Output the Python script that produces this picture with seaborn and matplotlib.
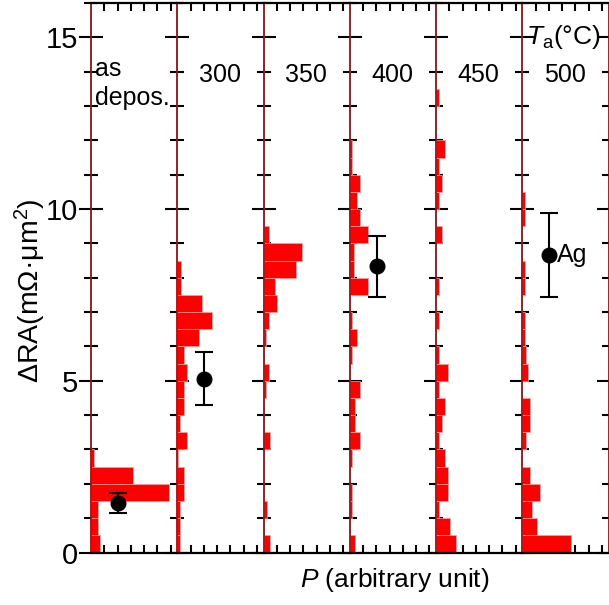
import numpy as np
import pandas as pd
import matplotlib
matplotlib.use("Agg")
import matplotlib.pyplot as plt
import seaborn as sns

# Panel labels: annealing temperature Ta (°C)
temperatures = ["as\ndepos.", "300", "350", "400", "450", "500"]

# ΔRA histogram bins (mΩ·μm²), 0.5 wide, starting at 0
bin_width = 0.5
bin_range = (0.0, 16.0)

# Probability P per bin (arbitrary unit), listed from the 0–0.5 bin upward
p_asdep = [0.70, 0.50, 0.50, 5.85, 3.15, 0.20]
p_300 = [0.23, 0.23, 0.23, 0.53, 0.53, 0.08, 0.71, 0.23, 0.53, 0.53,
         0.75, 0.50, 1.65, 2.59, 1.88, 0.26, 0.26]
p_350 = [0.47, 0.00, 0.23, 0.00, 0.00, 0.00, 0.47, 0.00, 0.00, 0.20,
         0.45, 0.00, 0.20, 0.45, 1.03, 0.85, 2.48, 2.91, 0.45]
p_400 = [0.43, 0.00, 0.17, 0.17, 0.00, 0.17, 0.80, 0.38, 0.38, 0.80,
         0.00, 0.17, 0.55, 0.17, 0.00, 1.35, 0.34, 0.35, 1.35, 0.75,
         0.55, 0.75, 0.17, 0.17]
p_450 = [1.50, 1.08, 0.25, 0.90, 0.90, 0.70, 0.25, 0.45, 0.70, 0.25,
         0.88, 0.25, 0.00, 0.25, 0.00, 0.25, 0.00, 0.00, 0.45, 0.00,
         0.25, 0.45, 0.25, 0.70, 0.00, 0.00, 0.25]
p_500 = [3.70, 1.13, 0.75, 1.30, 0.55, 0.00, 0.25, 0.55, 0.55, 0.00,
         0.40, 0.25, 0.20, 0.20, 0.00, 0.20, 0.20, 0.00, 0.00, 0.20, 0.20]
distributions = [p_asdep, p_300, p_350, p_400, p_450, p_500]

# Mean ΔRA with its spread, for the panels that carry a marker
mean_panels = [0, 1, 3, 5]
mean_values = [1.45, 5.06, 8.33, 8.66]
mean_errors = [0.29, 0.77, 0.89, 1.23]

sns.set_theme(style="ticks")
plt.rcParams["font.family"] = ["Liberation Sans", "DejaVu Sans"]
plt.rcParams["mathtext.fontset"] = "custom"
plt.rcParams["mathtext.rm"] = "Liberation Sans"
plt.rcParams["mathtext.it"] = "Liberation Sans:italic"
for key in ("text.color", "axes.labelcolor", "xtick.color", "ytick.color",
            "xtick.labelcolor", "ytick.labelcolor"):
    plt.rcParams[key] = "black"

divider = "#8b1515"
fig, axes = plt.subplots(1, 6, sharey=True, figsize=(6.09, 6.05), dpi=100,
                         gridspec_kw={"wspace": 0})
fig.subplots_adjust(left=91 / 609, right=608.5 / 609,
                    top=1 - 3 / 605, bottom=1 - 552.5 / 605)

for i, (ax, label, p) in enumerate(zip(axes, temperatures, distributions)):
    centers = bin_range[0] + bin_width * (np.arange(len(p)) + 0.5)
    frame = pd.DataFrame({"dra": centers, "p": p})
    sns.histplot(data=frame, y="dra", weights="p", binwidth=bin_width,
                 binrange=bin_range, ax=ax, color="#ff0000", alpha=1,
                 edgecolor="#ff9c9c", linewidth=0.5)
    ax.set_xlim(0, 6.5)
    ax.set_ylim(0, 16)
    ax.set_xlabel("")
    ax.set_ylabel("")

    for side in ("top", "bottom"):
        ax.spines[side].set_color("black")
        ax.spines[side].set_linewidth(1.6)
    ax.spines["left"].set_color(divider)
    ax.spines["left"].set_linewidth(1.3)
    if i < 5:
        ax.spines["right"].set_visible(False)
    else:
        ax.spines["right"].set_color(divider)
        ax.spines["right"].set_linewidth(1.3)

    ax.set_yticks([0, 5, 10, 15])
    ax.set_yticks(np.arange(0, 17, 1), minor=True)
    ax.tick_params(axis="y", which="major", direction="inout", length=17,
                   width=1.5, color="black", left=True, right=(i == 5),
                   labelleft=(i == 0), labelsize=21, pad=1)
    ax.tick_params(axis="y", which="minor", direction="inout", length=10.5,
                   width=1.5, color="black", left=True, right=(i == 5))

    ax.set_xticks([])
    ax.set_xticks(np.arange(1, 7), minor=True)
    ax.tick_params(axis="x", which="minor", direction="in", length=5.5,
                   width=1.5, color="black", top=True, bottom=True,
                   labelbottom=False)

    if i == 0:
        ax.text(0.3, 13.65, label, ha="left", va="center", fontsize=18,
                linespacing=1.25)
    else:
        ax.text(3.2, 13.9, label, ha="center", va="center", fontsize=18)

axes[5].text(0.3, 15.0, r"$T_{\rm a}$(°C)", ha="left", va="center",
             fontsize=19)

for idx, m, e in zip(mean_panels, mean_values, mean_errors):
    axes[idx].errorbar(2.05, m, yerr=e, fmt="o", color="black", ms=10.5,
                       elinewidth=1.5, capsize=6.5, capthick=1.5, zorder=5)
axes[5].text(2.65, mean_values[-1], "Ag", ha="left", va="center", fontsize=18)

axes[0].set_ylabel("ΔRA(mΩ·μm" + r"$^{2}$" + ")", fontsize=20.5)
axes[0].yaxis.set_label_coords(-0.5, 0.476)
fig.text(395 / 609, 1 - 580 / 605, r"$\mathit{P}$ (arbitrary unit)",
         ha="center", va="center", fontsize=19)

fig.savefig("out.png", dpi=100)
